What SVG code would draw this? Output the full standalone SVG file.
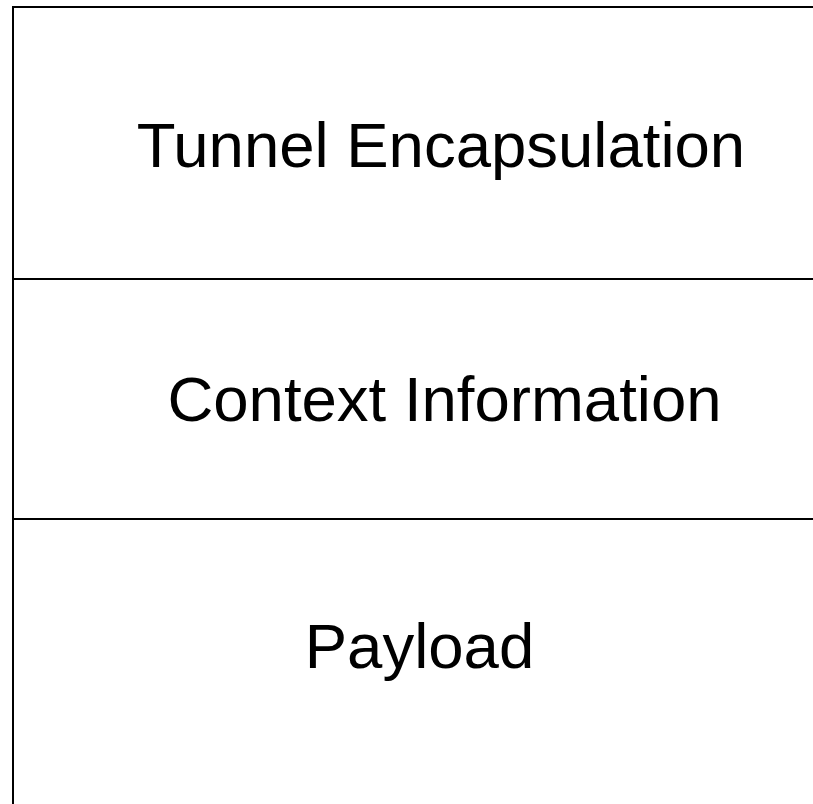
<svg xmlns="http://www.w3.org/2000/svg" width="813" height="804" viewBox="0 0 813 804">
<style>
.ln{stroke:#000;stroke-width:2;fill:none}
.lb{font-family:"Liberation Sans",Arial,sans-serif;font-size:63.5px;fill:#000;text-anchor:middle}
</style>
<rect width="813" height="804" fill="#fff"/>
<g id="connectors">
<line class="ln" x1="13" y1="6" x2="13" y2="804"/>
<line class="ln" x1="12" y1="7" x2="813" y2="7"/>
<line class="ln" x1="13" y1="279" x2="813" y2="279"/>
<line class="ln" x1="13" y1="519" x2="813" y2="519"/>
</g>
<g id="tunnel"><text class="lb" x="441" y="167">Tunnel Encapsulation</text></g>
<g id="context"><text class="lb" x="444.5" y="421">Context Information</text></g>
<g id="payload"><text class="lb" x="419.5" y="668">Payload</text></g>
</svg>
